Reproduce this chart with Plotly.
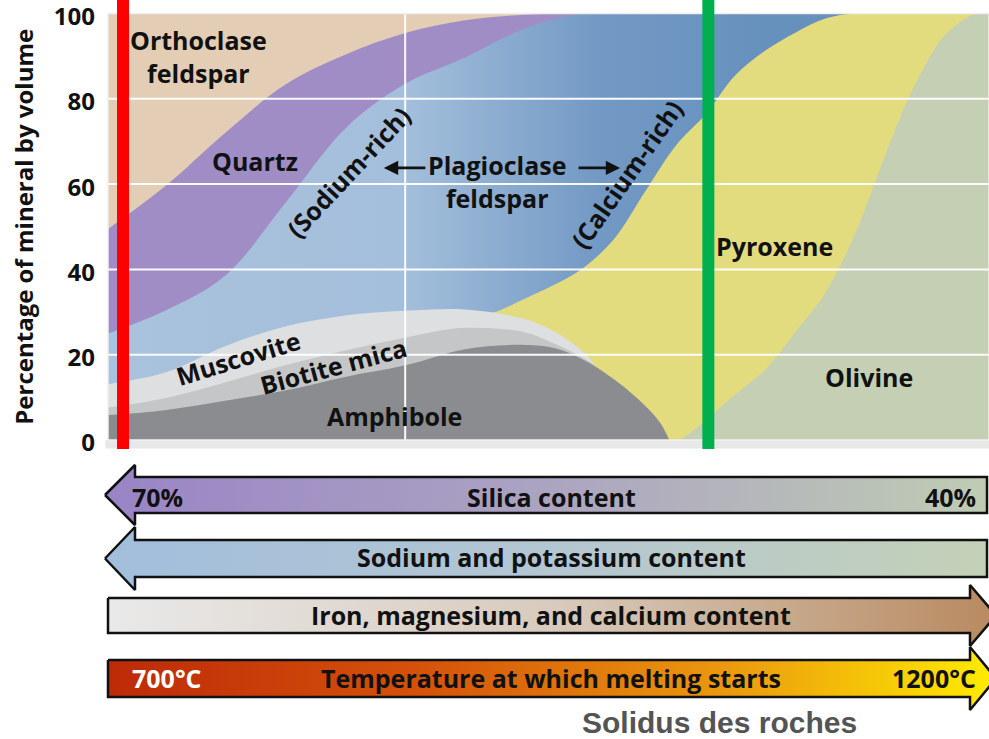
import plotly.graph_objects as go

W, H = 989, 739

# ---------------------------------------------------------------------------
# Mineral fields of the Bowen series diagram.
# x: silica content (wt %), decreasing to the right
# y: upper boundary of each field, cumulative % of mineral by volume
# ---------------------------------------------------------------------------
ORTHOCLASE_X = [70.0, 40.5]
ORTHOCLASE_Y = [100, 100]

QUARTZ_X = [70, 68, 66, 64, 62, 60, 58, 56, 54, 40.5]
QUARTZ_Y = [49.0, 59.5, 72.0, 83.3, 90.3, 95.4, 98.4, 99.7, 100, 100]

PLAGIOCLASE_X = [70, 68, 66, 64, 62, 60, 58, 56, 54, 40.5]
PLAGIOCLASE_Y = [24.7, 30.3, 38.5, 55.5, 73.0, 83.5, 89.7, 96.5, 100, 100]

PYROXENE_X = [57.3, 57, 56, 55, 54, 53, 52, 51, 50, 49, 48, 47, 46, 45, 40.5]
PYROXENE_Y = [29.6, 30.0, 33.2, 36.5, 40.7, 47.5, 58.3, 68.9, 76.3, 85.5, 91.3, 95.5, 98.8, 100, 100]

OLIVINE_X = [50.85, 50.5, 50, 49, 48, 47, 46, 45, 44, 43, 42, 41, 40.5]
OLIVINE_Y = [0, 1.7, 4.5, 10.7, 16.5, 25.3, 34.5, 48.5, 67.0, 83.5, 95.0, 100, 100]

MUSCOVITE_X = [70, 68, 66, 64, 62, 60, 58, 56, 55, 54, 53.7]
MUSCOVITE_Y = [13.0, 15.8, 22.0, 26.6, 29.2, 30.3, 30.6, 28.3, 25.3, 20.2, 17.6]

BIOTITE_X = [70, 68, 66, 64, 62, 60, 58, 56, 55, 54, 53.7]
BIOTITE_Y = [7.5, 9.8, 13.5, 17.5, 21.0, 24.0, 26.3, 25.2, 22.5, 19.0, 17.6]

AMPHIBOLE_X = [70, 68, 66, 64, 62, 60, 58, 56, 55, 54, 53, 52, 51.5, 51.2]
AMPHIBOLE_Y = [5.8, 7.0, 9.2, 11.6, 14.8, 17.5, 21.3, 22.3, 21.5, 18.6, 14.0, 8.0, 4.0, 0]

# field labels: text, silica %, volume %, rotation
FIELD_LABELS = [
    ("Orthoclase<br>feldspar", 66.87, 90.0, 0),
    ("Quartz", 65.0, 65.4, 0),
    ("(Sodium-rich)", 61.9, 62.8, -47),
    ("Plagioclase<br>feldspar", 56.94, 60.6, 0),
    ("(Calcium-rich)", 52.62, 62.3, -55),
    ("Pyroxene", 47.68, 45.5, 0),
    ("Olivine", 44.55, 14.8, 0),
    ("Muscovite", 65.58, 19.2, -17),
    ("Biotite mica", 62.4, 17.4, -15),
    ("Amphibole", 60.37, 5.6, 0),
]

# reference compositions marked with vertical bars (silica %)
GRANITE_SILICA = 69.4
BASALT_SILICA = 49.9

Y_TICKS = [0, 20, 40, 60, 80, 100]
X_GRID = [60, 50]

# trend bars under the diagram
TREND_TEXT = [
    "Silica content",
    "Sodium and potassium content",
    "Iron, magnesium, and calcium content",
    "Temperature at which melting starts",
]
SILICA_ENDS = ["70%", "40%"]
TEMPERATURE_ENDS = ["700°C", "1200°C"]

FONT = "Open Sans"
INK = "#111111"

fig = go.Figure()


def field(name, xs, ys, color, gradient=None):
    kw = dict(
        x=xs, y=ys, name=name, mode="lines",
        line=dict(width=0, shape="spline", smoothing=1.0),
        fill="tozeroy", fillcolor=color,
        hoverinfo="skip", showlegend=False,
        xaxis="x", yaxis="y",
    )
    if gradient is not None:
        kw["fillgradient"] = gradient
    fig.add_trace(go.Scatter(**kw))


# painter's order: each field is filled down to zero, later ones cover earlier ones
field("Orthoclase feldspar", ORTHOCLASE_X, ORTHOCLASE_Y, "#e3cdb4")
field("Quartz", QUARTZ_X, QUARTZ_Y, "#a08dc5")
field("Plagioclase feldspar", PLAGIOCLASE_X, PLAGIOCLASE_Y, "#8aaed3",
      gradient=dict(type="horizontal", start=70, stop=48,
                    colorscale=[[0, "#a9c2dd"], [0.45, "#a4bfdb"],
                                [0.75, "#7299c4"], [1, "#6791bd"]]))
field("Pyroxene", PYROXENE_X, PYROXENE_Y, "#e3dc7e")
field("Olivine", OLIVINE_X, OLIVINE_Y, "#c4cfb4")
field("Muscovite", MUSCOVITE_X, MUSCOVITE_Y, "#dedfe1")
field("Biotite mica", BIOTITE_X, BIOTITE_Y, "#c5c6c8")
field("Amphibole", AMPHIBOLE_X, AMPHIBOLE_Y, "#8b8c8f")

# ---------------------------------------------------------------------------
# trend arrows, drawn on a second pair of axes in screen-like units
# ---------------------------------------------------------------------------
BAR_LEFT, BAR_RIGHT = 108, 987
HEAD_X_LEFT, HEAD_X_RIGHT = 135, 970
TIP_LEFT, TIP_RIGHT = 105, 996


def arrow_trace(xs, ys, start, stop, colors):
    fig.add_trace(go.Scatter(
        x=xs, y=ys, mode="lines", fill="toself",
        line=dict(color=INK, width=2.5),
        fillgradient=dict(type="horizontal", start=start, stop=stop, colorscale=colors),
        hoverinfo="skip", showlegend=False, xaxis="x2", yaxis="y2"))


def left_arrow(top, bottom, spread, colors):
    mid = (top + bottom) / 2
    xs = [TIP_LEFT, HEAD_X_LEFT, HEAD_X_LEFT, BAR_RIGHT, BAR_RIGHT, HEAD_X_LEFT, HEAD_X_LEFT, TIP_LEFT]
    ys = [mid, top - spread, top, top, bottom, bottom, bottom + spread, mid]
    arrow_trace(xs, ys, TIP_LEFT, BAR_RIGHT, colors)


def right_arrow(top, bottom, spread, colors):
    mid = (top + bottom) / 2
    xs = [BAR_LEFT, HEAD_X_RIGHT, HEAD_X_RIGHT, TIP_RIGHT, HEAD_X_RIGHT, HEAD_X_RIGHT, BAR_LEFT, BAR_LEFT]
    ys = [top, top, top - spread, mid, bottom + spread, bottom, bottom, top]
    arrow_trace(xs, ys, BAR_LEFT, TIP_RIGHT, colors)


left_arrow(477, 513, 12, [[0, "#9984c6"], [0.5, "#aba4c1"], [1, "#bfccb3"]])
left_arrow(540, 577, 13, [[0, "#a1bedc"], [0.5, "#b3c6d2"], [1, "#c3d1b7"]])
right_arrow(598, 633, 13, [[0, "#e9e9e9"], [0.5, "#d8cbbd"], [1, "#b88a60"]])
right_arrow(660, 697, 13, [[0, "#bd2a08"], [0.35, "#d5520a"], [0.7, "#eb9a0e"], [1, "#ffec00"]])

annotations = []
for text, sx, vy, ang in FIELD_LABELS:
    annotations.append(dict(
        x=sx, y=vy, xref="x", yref="y", text=text, showarrow=False,
        textangle=ang, font=dict(family=FONT, size=25, color=INK, weight="bold"),
    ))

# arrows either side of "Plagioclase"
for head_x, off in [(60.71, 43), (52.84, -43)]:
    annotations.append(dict(
        x=head_x, y=63.8, xref="x", yref="y", ax=off, ay=0, text="",
        showarrow=True, arrowhead=2, arrowsize=1.1, arrowwidth=2.6, arrowcolor=INK,
    ))

bar_font = dict(family=FONT, size=25, color=INK, weight="bold")
for text, y in zip(TREND_TEXT, [497, 557, 615, 678]):
    annotations.append(dict(x=551, y=y, xref="x2", yref="y2", text=text,
                            showarrow=False, font=bar_font))
annotations.append(dict(x=130, y=497, xref="x2", yref="y2", text=SILICA_ENDS[0],
                        xanchor="left", showarrow=False, font=bar_font))
annotations.append(dict(x=978, y=497, xref="x2", yref="y2", text=SILICA_ENDS[1],
                        xanchor="right", showarrow=False, font=bar_font))
annotations.append(dict(x=130, y=678, xref="x2", yref="y2", text=TEMPERATURE_ENDS[0],
                        xanchor="left", showarrow=False,
                        font=dict(family=FONT, size=25, color="#ffffff", weight="bold")))
annotations.append(dict(x=978, y=678, xref="x2", yref="y2", text=TEMPERATURE_ENDS[1],
                        xanchor="right", showarrow=False, font=bar_font))
annotations.append(dict(x=719, y=722, xref="x2", yref="y2", text="Solidus des roches",
                        showarrow=False,
                        font=dict(family="Liberation Sans", size=30, color="#545454", weight="bold")))

# ---------------------------------------------------------------------------
# grid lines and composition bars drawn over the fields
# ---------------------------------------------------------------------------
shapes = []
# soft shadow under the diagram
shapes.append(dict(type="rect", xref="x domain", yref="y domain", x0=-0.003, x1=1, y0=-0.02, y1=0,
                   fillcolor="#e8e8e8", line=dict(width=0), layer="below"))
for v in Y_TICKS[1:-1]:
    shapes.append(dict(type="line", xref="x domain", yref="y", x0=0, x1=1, y0=v, y1=v,
                       line=dict(color="rgba(255,255,255,0.95)", width=2), layer="above"))
for v in X_GRID:
    shapes.append(dict(type="line", xref="x", yref="y", x0=v, x1=v, y0=0, y1=100,
                       line=dict(color="rgba(255,255,255,0.95)", width=2), layer="above"))
shapes.append(dict(type="rect", xref="x domain", yref="y domain", x0=0, x1=1, y0=0, y1=1,
                   line=dict(color="#f0f0f0", width=1.5), layer="above"))

bar_bottom = (H - 449) / H
for sx, color in [(GRANITE_SILICA, "#ff0000"), (BASALT_SILICA, "#00b04f")]:
    shapes.append(dict(type="line", xref="x", yref="paper", x0=sx, x1=sx,
                       y0=bar_bottom, y1=1,
                       line=dict(color=color, width=12), layer="above"))

plot_top = (H - 13.5) / H
plot_bottom = (H - 440) / H

fig.update_layout(
    width=W, height=H,
    margin=dict(l=0, r=0, t=0, b=0, autoexpand=False),
    paper_bgcolor="white", plot_bgcolor="white",
    xaxis=dict(domain=[108 / W, 1], range=[69.9, 40.55], showgrid=False, zeroline=False,
               showticklabels=False, ticks="", showline=False, fixedrange=True,
               automargin=False),
    yaxis=dict(domain=[plot_bottom, plot_top], range=[0, 100], tickvals=Y_TICKS,
               showgrid=False, zeroline=False, showline=False, ticks="",
               ticklabelstandoff=12, ticklabelshift=3, ticklabeloverflow="allow",
               automargin=False,
               tickfont=dict(family=FONT, size=24, color=INK, weight="bold"),
               title=dict(text="Percentage of mineral by volume", standoff=13,
                          font=dict(family=FONT, size=24, color=INK, weight="bold")),
               fixedrange=True),
    xaxis2=dict(domain=[0, 1], range=[0, W], visible=False, anchor="y2", fixedrange=True,
                automargin=False),
    yaxis2=dict(domain=[0, (H - 455) / H], range=[H, 455], visible=False, anchor="x2",
                fixedrange=True, automargin=False),
    annotations=annotations,
    shapes=shapes,
)

fig.write_html("out.html")
